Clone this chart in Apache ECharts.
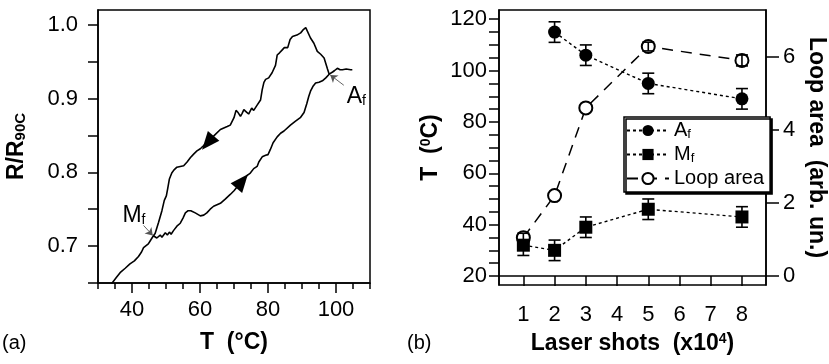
<!DOCTYPE html>
<html><head><meta charset="utf-8">
<script src="https://cdn.jsdelivr.net/npm/echarts@6/dist/echarts.min.js"></script>
<style>html,body{margin:0;padding:0;background:#fff}#c{width:829px;height:364px}</style>
</head><body><div id="c"></div>
<script>
// ---- Panel (a): hysteresis loop R/R90C vs T ----
const heatT = [34.0,35.5,36.5,38.0,39.4,40.7,41.9,42.8,43.4,44.8,45.6,46.3,47.3,47.8,48.3,48.8,49.3,49.8,50.4,51.0,51.5,52.2,53.2,54.2,55.0,55.7,56.5,57.3,58.6,60.1,61.1,62.0,63.0,64.0,65.0,66.0,67.5,68.9,70.0,70.9,72.5,73.9,74.8,75.8,76.8,77.3,78.3,79.3,80.0,80.7,81.5,82.7,83.7,84.7,86.6,88.0,89.5,90.6,91.4,92.0,92.5,93.3,94.0,95.0,96.0,97.0,98.0,99.0,99.6,100.4,101.2,101.9,103.0,104.3,104.8];
const heatR = [0.649,0.658,0.664,0.670,0.676,0.680,0.686,0.692,0.698,0.703,0.709,0.714,0.711,0.710,0.715,0.712,0.710,0.718,0.715,0.719,0.716,0.721,0.727,0.731,0.738,0.745,0.748,0.748,0.745,0.741,0.742,0.745,0.750,0.754,0.756,0.758,0.764,0.770,0.775,0.780,0.788,0.796,0.799,0.805,0.808,0.814,0.821,0.823,0.824,0.831,0.840,0.848,0.853,0.856,0.864,0.869,0.874,0.881,0.893,0.903,0.910,0.917,0.921,0.922,0.924,0.928,0.933,0.936,0.938,0.941,0.939,0.939,0.940,0.939,0.939];
const coolT = [98.0,97.5,96.5,95.5,94.5,93.5,92.5,91.1,90.3,89.6,88.5,87.2,86.5,85.8,84.8,84.2,83.4,82.7,82.2,81.2,80.2,79.3,78.8,78.3,77.8,76.8,75.8,75.2,74.8,74.3,73.6,72.9,72.4,71.9,71.2,70.6,70.0,68.9,68.0,66.0,64.0,62.5,61.0,60.1,59.1,58.2,57.2,56.2,55.2,54.2,53.2,52.3,51.7,51.0,50.5,50.1,49.5,48.8,47.8,46.8,46.3];
const coolR = [0.933,0.940,0.955,0.960,0.964,0.975,0.982,0.996,0.993,0.989,0.986,0.984,0.980,0.969,0.969,0.966,0.962,0.959,0.945,0.935,0.928,0.926,0.922,0.912,0.898,0.891,0.884,0.887,0.889,0.879,0.882,0.885,0.880,0.876,0.881,0.884,0.874,0.864,0.862,0.858,0.849,0.843,0.836,0.832,0.829,0.825,0.820,0.814,0.809,0.808,0.807,0.803,0.799,0.791,0.778,0.768,0.762,0.748,0.732,0.717,0.714];
const leftXLabels = [40, 60, 80, 100];
const leftXMinor = [30,35,45,50,55,65,70,75,85,90,95,105,110];
const leftYTicks = [0.65,0.70,0.75,0.80,0.85,0.90,0.95,1.00];
const leftYLabels = [0.7, 0.8, 0.9, 1.0];

// ---- Panel (b): transformation temperatures and loop area vs laser shots ----
const afShots = [2, 3, 5, 8];
const afTemp  = [115, 106, 95, 89];
const afErr   = [4, 4, 4, 4];
const mfShots = [1, 2, 3, 5, 8];
const mfTemp  = [32, 30, 39, 46, 43];
const mfErr   = [4, 4, 4, 4, 4];
const loopShots = [1, 2, 3, 5, 8];
const loopArea  = [1.05, 2.2, 4.6, 6.28, 5.9];
const loopErr   = [0.12, 0, 0, 0.12, 0.15];
const rightXLabels = [1, 2, 3, 4, 5, 6, 7, 8];
const rightYTicks = [20,25,30,35,40,45,50,55,60,65,70,75,80,85,90,95,100,105,110,115,120];
const rightYLabels = [20, 40, 60, 80, 100, 120];
const loopLabels = [0, 2, 4, 6];

const FF = '"Liberation Sans", Arial, Helvetica, sans-serif';
const zip = (a, b) => a.map((v, i) => [v, b[i]]);
const zip3 = (a, b, c) => a.map((v, i) => [v, b[i], c[i]]);

function errBars(xi, yi, data, z) {
  return {
    type: 'custom', xAxisIndex: xi, yAxisIndex: yi, z: z, silent: true,
    data: data,
    renderItem: function (params, api) {
      const x = api.value(0), y = api.value(1), e = api.value(2);
      if (!e) return null;
      const lo = api.coord([x, y - e]), hi = api.coord([x, y + e]);
      const w = 6;
      const st = { stroke: '#000', lineWidth: 1.6 };
      return { type: 'group', children: [
        { type: 'line', shape: { x1: lo[0], y1: lo[1], x2: hi[0], y2: hi[1] }, style: st },
        { type: 'line', shape: { x1: lo[0] - w, y1: lo[1], x2: lo[0] + w, y2: lo[1] }, style: st },
        { type: 'line', shape: { x1: hi[0] - w, y1: hi[1], x2: hi[0] + w, y2: hi[1] }, style: st }
      ]};
    }
  };
}

const axisLine = { show: true, lineStyle: { color: '#000', width: 1.5 } };
const lblStyle = { color: '#000', fontFamily: FF, fontSize: 22 };
const subRich = {
  b: { fontFamily: FF, fontSize: 23, fontWeight: 'bold', color: '#000' },
  s: { fontFamily: FF, fontSize: 15, fontWeight: 'bold', color: '#000', verticalAlign: 'bottom' },
  p: { fontFamily: FF, fontSize: 14, fontWeight: 'bold', color: '#000', verticalAlign: 'top' }
};
const legRich = {
  m: { fontFamily: FF, fontSize: 20, color: '#000' },
  s: { fontFamily: FF, fontSize: 13, color: '#000', verticalAlign: 'bottom' }
};
const annRich = {
  m: { fontFamily: FF, fontSize: 23, color: '#000' },
  s: { fontFamily: FF, fontSize: 14, color: '#000', verticalAlign: 'bottom' }
};

const chart = echarts.init(document.getElementById('c'), null, { renderer: 'canvas' });
chart.setOption({
  animation: false,
  backgroundColor: '#fff',
  grid: [
    { left: 98, top: 10, width: 272, height: 273, show: true, borderColor: '#000', borderWidth: 1.5, backgroundColor: 'transparent' },
    { left: 499, top: 10, width: 271, height: 275, show: true, borderColor: '#000', borderWidth: 1.5, backgroundColor: 'transparent' }
  ],
  xAxis: [
    { type: 'value', gridIndex: 0, min: 30, max: 110, position: 'bottom',
      axisLine: axisLine, splitLine: { show: false },
      axisTick: { show: true, inside: false, length: 10, customValues: leftXLabels, lineStyle: { color: '#000', width: 1.5 } },
      axisLabel: { customValues: leftXLabels, margin: 16, ...lblStyle },
      name: 'T  (°C)', nameLocation: 'middle', nameGap: 48,
      nameTextStyle: { fontFamily: FF, fontSize: 23, fontWeight: 'bold', color: '#000' } },
    { type: 'value', gridIndex: 0, min: 30, max: 110, position: 'bottom',
      axisLine: { show: false }, splitLine: { show: false },
      axisTick: { show: true, length: 6, customValues: leftXMinor, lineStyle: { color: '#000', width: 1.5 } },
      axisLabel: { show: false } },
    { type: 'value', gridIndex: 1, min: 0.22, max: 8.77, position: 'bottom',
      axisLine: axisLine, splitLine: { show: false },
      axisTick: { show: true, length: 10, customValues: rightXLabels, lineStyle: { color: '#000', width: 1.5 } },
      axisLabel: { customValues: rightXLabels, margin: 19, ...lblStyle },
      name: '{b|Laser shots  (x10}{p|4}{b|)}', nameLocation: 'middle', nameGap: 47,
      nameTextStyle: { rich: subRich } }
  ],
  yAxis: [
    { type: 'value', gridIndex: 0, min: 0.65, max: 1.02, position: 'left',
      axisLine: axisLine, splitLine: { show: false },
      axisTick: { show: true, length: 10, customValues: leftYTicks, lineStyle: { color: '#000', width: 1.5 } },
      axisLabel: { customValues: leftYLabels, margin: 20, formatter: v => v.toFixed(1), ...lblStyle },
      name: '{b|R/R}{s|90C}', nameLocation: 'middle', nameGap: 70, nameRotate: 90,
      nameTextStyle: { rich: subRich } },
    { type: 'value', gridIndex: 1, min: 16.5, max: 123.6, position: 'left',
      axisLine: axisLine, splitLine: { show: false },
      axisTick: { show: true, length: 10, customValues: rightYTicks, lineStyle: { color: '#000', width: 1.5 } },
      axisLabel: { customValues: rightYLabels, margin: 12, ...lblStyle },
      name: '{b|T  (}{p|0}{b|C)}', nameLocation: 'middle', nameGap: 57, nameRotate: 90,
      nameTextStyle: { rich: subRich } },
    { type: 'value', gridIndex: 1, min: -0.246, max: 7.28, position: 'right',
      axisLine: axisLine, splitLine: { show: false },
      axisTick: { show: true, length: 13, customValues: loopLabels, lineStyle: { color: '#000', width: 1.5 } },
      axisLabel: { customValues: loopLabels, margin: 17, ...lblStyle },
      name: 'Loop area  (arb. un.)', nameLocation: 'middle', nameGap: 39, nameRotate: -90,
      nameTextStyle: { fontFamily: FF, fontSize: 23, fontWeight: 'bold', color: '#000' } }
  ],
  legend: {
    data: ['Af', 'Mf', 'Loop area'], orient: 'vertical', left: 624, top: 117,
    itemWidth: 42, itemHeight: 14, itemGap: 3, padding: [3, 6, 3, 2],
    backgroundColor: '#fff', borderColor: '#000', borderWidth: 1.5,
    shadowColor: '#000', shadowOffsetX: 2, shadowOffsetY: 2, shadowBlur: 0,
    selectedMode: false,
    formatter: n => n === 'Af' ? '{m|A}{s|f}' : (n === 'Mf' ? '{m|M}{s|f}' : '{m|Loop area}'),
    textStyle: { fontFamily: FF, fontSize: 20, color: '#000', lineHeight: 21, rich: legRich }
  },
  graphic: [
    { type: 'text', left: 2, top: 333, style: { text: '(a)', fontFamily: FF, fontSize: 20, fill: '#000' } },
    { type: 'text', left: 407, top: 333, style: { text: '(b)', fontFamily: FF, fontSize: 20, fill: '#000' } }
  ],
  series: [
    { name: 'heat', type: 'line', xAxisIndex: 0, yAxisIndex: 0, data: zip(heatT, heatR),
      showSymbol: false, silent: true, lineStyle: { color: '#000', width: 1.6 }, z: 3,
      markPoint: { silent: true, animation: false, label: { show: false },
        data: [ { coord: [72.4, 0.788], symbol: 'triangle', symbolSize: [15, 18], symbolRotate: -40, itemStyle: { color: '#000' } },
                { coord: [104.5, 0.907], symbol: 'circle', symbolSize: 1, itemStyle: { color: 'rgba(0,0,0,0)' },
                  label: { show: true, position: 'inside', offset: [5, 3], formatter: '{m|A}{s|f}', rich: annRich } } ] },
      markLine: { silent: true, animation: false, symbol: ['none', 'arrow'], symbolSize: 7, label: { show: false },
        lineStyle: { color: '#555', width: 0.9, type: 'solid' },
        data: [ [ { coord: [102.3, 0.918] }, { coord: [98.3, 0.932] } ] ] } },
    { name: 'cool', type: 'line', xAxisIndex: 0, yAxisIndex: 0, data: zip(coolT, coolR),
      showSymbol: false, silent: true, lineStyle: { color: '#000', width: 1.6 }, z: 3,
      markPoint: { silent: true, animation: false, label: { show: false },
        data: [ { coord: [62.3, 0.840], symbol: 'triangle', symbolSize: [15, 18], symbolRotate: 140, itemStyle: { color: '#000' } },
                { coord: [39.4, 0.746], symbol: 'circle', symbolSize: 1, itemStyle: { color: 'rgba(0,0,0,0)' },
                  label: { show: true, position: 'inside', offset: [4, 3], formatter: '{m|M}{s|f}', rich: annRich } } ] },
      markLine: { silent: true, animation: false, symbol: ['none', 'arrow'], symbolSize: 7, label: { show: false },
        lineStyle: { color: '#555', width: 0.9, type: 'solid' },
        data: [ [ { coord: [43.4, 0.728] }, { coord: [46.1, 0.7145] } ] ] } },
    errBars(2, 2, zip3(loopShots, loopArea, loopErr), 6),
    errBars(2, 1, zip3(afShots, afTemp, afErr), 4),
    errBars(2, 1, zip3(mfShots, mfTemp, mfErr), 4),
    { name: 'Loop area', type: 'line', xAxisIndex: 2, yAxisIndex: 2, data: zip(loopShots, loopArea),
      symbol: 'emptyCircle', symbolSize: 13, z: 5,
      itemStyle: { color: '#000', borderColor: '#000', borderWidth: 1.5 },
      lineStyle: { color: '#000', width: 1.5, type: [11, 8] } },
    { name: 'Af', type: 'line', xAxisIndex: 2, yAxisIndex: 1, data: zip(afShots, afTemp),
      symbol: 'circle', symbolSize: 13, z: 5,
      itemStyle: { color: '#000' }, lineStyle: { color: '#000', width: 1.4, type: [3, 3] } },
    { name: 'Mf', type: 'line', xAxisIndex: 2, yAxisIndex: 1, data: zip(mfShots, mfTemp),
      symbol: 'rect', symbolSize: 13, z: 7,
      itemStyle: { color: '#000' }, lineStyle: { color: '#000', width: 1.4, type: [3, 3] } }
  ]
});
</script>
</body></html>
